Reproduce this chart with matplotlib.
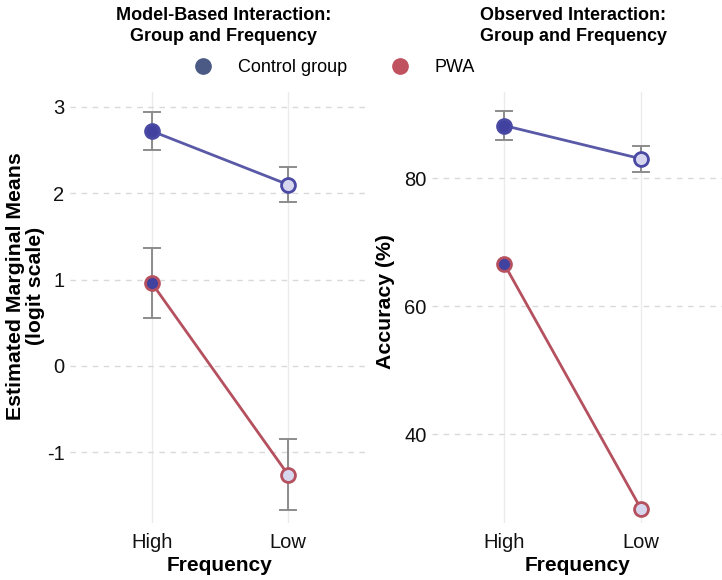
import matplotlib.pyplot as plt
from matplotlib.lines import Line2D

plt.rcParams["font.family"] = ["Liberation Sans", "DejaVu Sans"]

frequency = ["High", "Low"]
groups = ["Control group", "PWA"]

# model-based estimates (logit scale) with CI bounds
emm_control = [2.72, 2.10]
emm_control_lo = [2.50, 1.90]
emm_control_hi = [2.94, 2.30]
emm_pwa = [0.96, -1.26]
emm_pwa_lo = [0.55, -1.67]
emm_pwa_hi = [1.37, -0.84]

# observed accuracy (%)
acc_control = [88.2, 83.0]
acc_control_lo = [85.9, 81.0]
acc_control_hi = [90.4, 85.0]
acc_pwa = [66.6, 28.3]

line_cols = {"Control group": "#5959a8", "PWA": "#b5505f"}
legend_cols = {"Control group": "#4a5a84", "PWA": "#c0515e"}
dark_fill = "#4141a0"
light_fill = "#d6d6ee"
err_col = "#8c8c8c"

fig = plt.figure(figsize=(7.22, 5.8), dpi=100)
ax1 = fig.add_axes([70 / 722, 0.098, 300 / 722, 0.743])
ax2 = fig.add_axes([432 / 722, 0.098, 290 / 722, 0.743])


def draw_group(ax, y, lo, hi, group):
    x = [0, 1]
    if lo is not None:
        for xi, l, h in zip(x, lo, hi):
            ax.plot([xi, xi], [l, h], color=err_col, lw=1.4, zorder=2)
            ax.plot([xi - 0.06, xi + 0.06], [l, l], color=err_col, lw=1.4, zorder=2)
            ax.plot([xi - 0.06, xi + 0.06], [h, h], color=err_col, lw=1.4, zorder=2)
    ax.plot(x, y, color=line_cols[group], lw=2, zorder=3)
    edge = line_cols[group] if group == "PWA" else "#4a4aa4"
    ax.scatter(x[0], y[0], s=100, color=dark_fill, edgecolor=edge, linewidth=2, zorder=4)
    ax.scatter(x[1], y[1], s=100, color=light_fill, edgecolor=edge, linewidth=2, zorder=4)


draw_group(ax1, emm_control, emm_control_lo, emm_control_hi, "Control group")
draw_group(ax1, emm_pwa, emm_pwa_lo, emm_pwa_hi, "PWA")
draw_group(ax2, acc_control, acc_control_lo, acc_control_hi, "Control group")
draw_group(ax2, acc_pwa, None, None, "PWA")

ax1.set_ylim(-1.82, 3.17)
ax1.set_yticks([-1, 0, 1, 2, 3])
ax1.set_yticklabels(["-1", "0", "1", "2", "3"])
ax1.set_xlim(-0.6, 1.6)
ax2.set_ylim(26.1, 93.4)
ax2.set_yticks([40, 60, 80])
ax2.set_xlim(-0.526, 1.59)

for ax in (ax1, ax2):
    ax.set_xticks([0, 1])
    ax.set_xticklabels(frequency)
    for s in ax.spines.values():
        s.set_visible(False)
    ax.tick_params(length=0, labelsize=14.5, colors="#111111")
    ax.tick_params(axis="x", pad=7)
    ax.tick_params(axis="y", pad=4)
    ax.yaxis.grid(True, color="#d9d9d9", linestyle=(0, (4, 4)), lw=1)
    ax.xaxis.grid(True, color="#ebebeb", linestyle="-", lw=1)
    ax.set_axisbelow(True)
    ax.set_xlabel("Frequency", fontsize=15, fontweight="bold", labelpad=3)

ax1.set_ylabel("Estimated Marginal Means\n(logit scale)", fontsize=15.3, fontweight="bold",
               linespacing=1.05)
ax1.yaxis.set_label_coords(-0.083, 0.55)
ax2.set_ylabel("Accuracy (%)", fontsize=15.3, fontweight="bold")
ax2.yaxis.set_label_coords(-0.128, 0.515)

fig.text(224 / 722, 1 - 26 / 580, "Model-Based Interaction:\nGroup and Frequency",
         ha="center", va="center", fontsize=13, fontweight="bold", linespacing=1.35)
fig.text(573 / 722, 1 - 26 / 580, "Observed Interaction:\nGroup and Frequency",
         ha="center", va="center", fontsize=13, fontweight="bold", linespacing=1.35)

handles = [Line2D([], [], marker="o", linestyle="none", markersize=11,
                  color=legend_cols[g]) for g in groups]
fig.legend(handles, groups, loc="center", bbox_to_anchor=(0.457, 1 - 68 / 580), ncol=2,
           frameon=False, fontsize=13, handletextpad=0.95, columnspacing=1.9)

fig.savefig("out.png", dpi=100)
